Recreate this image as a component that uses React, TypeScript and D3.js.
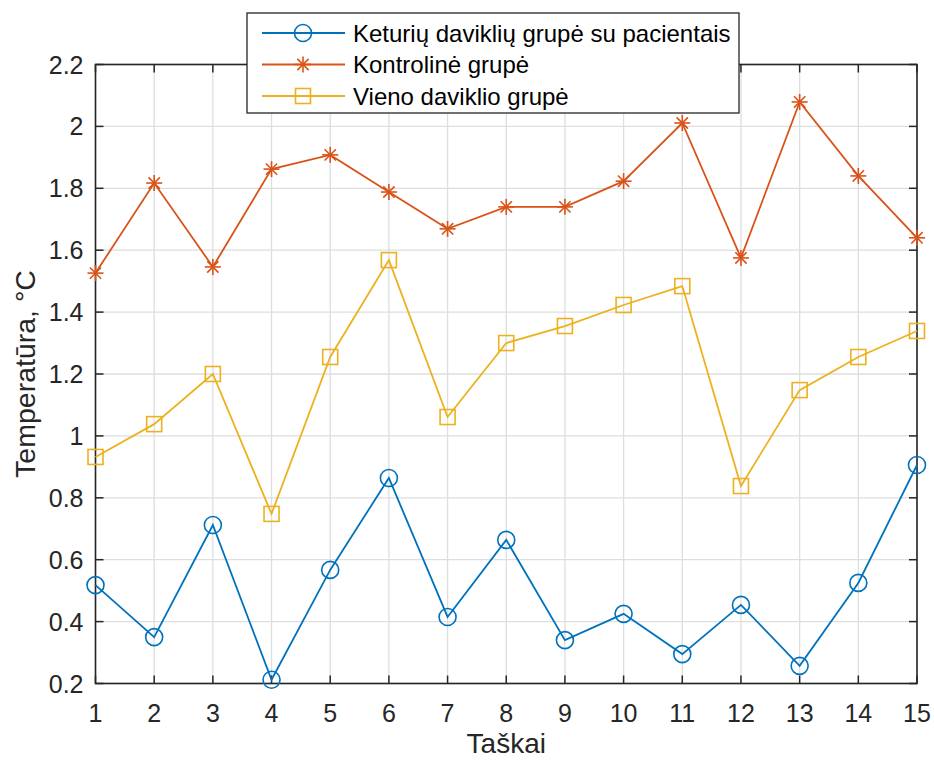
import React from "react";
import * as d3 from "d3";

const points = d3.range(1, 16);
const keturiu = [0.518, 0.35, 0.712, 0.212, 0.567, 0.864, 0.415, 0.664, 0.34, 0.425, 0.295, 0.454, 0.257, 0.525, 0.906];
const kontroline = [1.526, 1.817, 1.546, 1.862, 1.908, 1.788, 1.669, 1.74, 1.74, 1.823, 2.011, 1.575, 2.079, 1.84, 1.64];
const vieno = [0.932, 1.038, 1.2, 0.748, 1.255, 1.568, 1.061, 1.3, 1.355, 1.423, 1.484, 0.838, 1.148, 1.255, 1.339];
const yTicks = [0.2, 0.4, 0.6, 0.8, 1, 1.2, 1.4, 1.6, 1.8, 2, 2.2];
const seriesNames = ["Keturių daviklių grupė su pacientais", "Kontrolinė grupė", "Vieno daviklio grupė"];

const W = 934;
const H = 760;
const left = 95.5, right = 917, top = 64.5, bottom = 683.5;
const font = "'Liberation Sans', Arial, sans-serif";
const axisCol = "#262626";

function Marker({ kind, x, y, color }: { kind: string; x: number; y: number; color: string }) {
  if (kind === "circle") return <circle cx={x} cy={y} r={8.5} fill="none" stroke={color} strokeWidth={1.6} />;
  if (kind === "square") return <rect x={x - 7.5} y={y - 7.5} width={15} height={15} fill="none" stroke={color} strokeWidth={1.6} />;
  const r = 8;
  const d = r * Math.SQRT1_2;
  return (
    <g stroke={color} strokeWidth={1.6}>
      <line x1={x - r} y1={y} x2={x + r} y2={y} />
      <line x1={x} y1={y - r} x2={x} y2={y + r} />
      <line x1={x - d} y1={y - d} x2={x + d} y2={y + d} />
      <line x1={x - d} y1={y + d} x2={x + d} y2={y - d} />
    </g>
  );
}

export default function App() {
  const x = d3.scaleLinear().domain([1, 15]).range([left, right]);
  const y = d3.scaleLinear().domain([0.2, 2.2]).range([bottom, top]);
  const line = d3.line<number>().x((_, i) => x(points[i])).y((d) => y(d));

  const series = [
    { name: seriesNames[0], data: keturiu, color: "#0072BD", kind: "circle" },
    { name: seriesNames[1], data: kontroline, color: "#D95319", kind: "star" },
    { name: seriesNames[2], data: vieno, color: "#EDB120", kind: "square" },
  ];

  const tickLen = 8;

  return (
    <svg width={W} height={H} style={{ position: "absolute", left: 0, top: 0, background: "#fff" }} fontFamily={font}>
      <rect x={0} y={0} width={W} height={H} fill="#fff" />
      {/* grid */}
      <g stroke="#dedede" strokeWidth={1.3}>
        {points.map((p) => (
          <line key={"gx" + p} x1={x(p)} x2={x(p)} y1={top} y2={bottom} />
        ))}
        {yTicks.map((t) => (
          <line key={"gy" + t} x1={left} x2={right} y1={y(t)} y2={y(t)} />
        ))}
      </g>
      {/* ticks */}
      <g stroke={axisCol} strokeWidth={1.5}>
        {points.map((p) => (
          <g key={"tx" + p}>
            <line x1={x(p)} x2={x(p)} y1={bottom} y2={bottom - tickLen} />
            <line x1={x(p)} x2={x(p)} y1={top} y2={top + tickLen} />
          </g>
        ))}
        {yTicks.map((t) => (
          <g key={"ty" + t}>
            <line x1={left} x2={left + tickLen} y1={y(t)} y2={y(t)} />
            <line x1={right} x2={right - tickLen} y1={y(t)} y2={y(t)} />
          </g>
        ))}
      </g>
      <rect x={left} y={top} width={right - left} height={bottom - top} fill="none" stroke={axisCol} strokeWidth={1.6} />
      {/* series */}
      {series.map((s) => (
        <g key={s.name}>
          <path d={line(s.data) || ""} fill="none" stroke={s.color} strokeWidth={1.8} />
          {s.data.map((v, i) => (
            <Marker key={i} kind={s.kind} x={x(points[i])} y={y(v)} color={s.color} />
          ))}
        </g>
      ))}
      {/* tick labels */}
      <g fill={axisCol} fontSize={25}>
        {points.map((p) => (
          <text key={"lx" + p} x={x(p)} y={bottom + 38.5} textAnchor="middle">
            {p}
          </text>
        ))}
        {yTicks.map((t) => (
          <text key={"ly" + t} x={left - 12} y={y(t) + 9} textAnchor="end">
            {d3.format("~g")(t)}
          </text>
        ))}
      </g>
      <text x={(left + right) / 2} y={753} textAnchor="middle" fontSize={28} fill={axisCol}>
        Taškai
      </text>
      <text transform={`translate(35,${(top + bottom) / 2}) rotate(-90)`} textAnchor="middle" fontSize={28.5} fill={axisCol}>
        Temperatūra, °C
      </text>
      {/* legend */}
      <g>
        <rect x={247} y={13} width={492} height={100} fill="#fff" stroke={axisCol} strokeWidth={1.3} />
        {series.map((s, i) => {
          const ly = 33 + i * 31.5;
          return (
            <g key={"lg" + i}>
              <line x1={262} x2={345} y1={ly} y2={ly} stroke={s.color} strokeWidth={1.8} />
              <Marker kind={s.kind} x={303} y={ly} color={s.color} />
              <text x={353} y={ly + 8.5} fontSize={24} fill="#000">
                {s.name}
              </text>
            </g>
          );
        })}
      </g>
    </svg>
  );
}
